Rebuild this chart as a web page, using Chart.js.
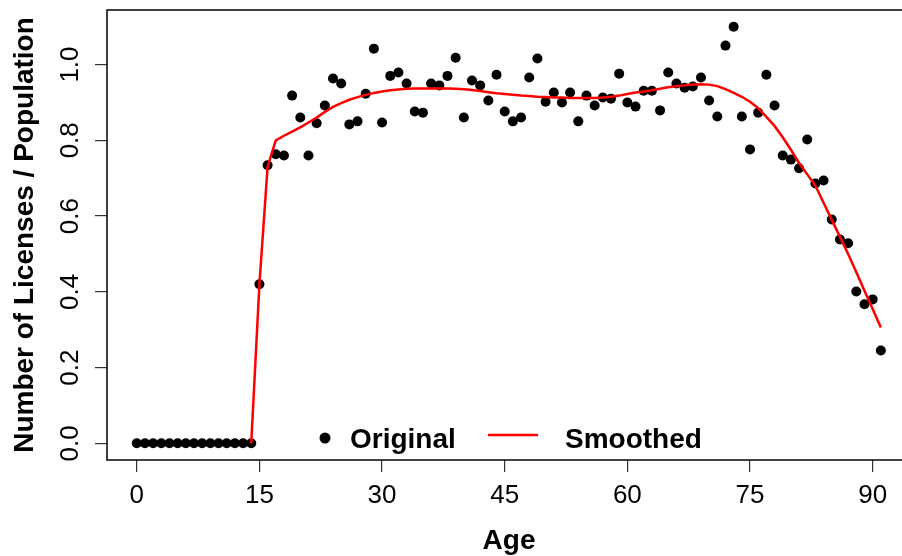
<!DOCTYPE html>
<html>
<head>
<meta charset="utf-8">
<script src="https://cdn.jsdelivr.net/npm/chart.js@4"></script>
<style>
  html, body { margin: 0; padding: 0; background: #fff; overflow: hidden; }
  canvas { display: block; }
</style>
</head>
<body>
<canvas id="myChart" width="912" height="556"></canvas>
<script>
const ages = [0, 1, 2, 3, 4, 5, 6, 7, 8, 9, 10, 11, 12, 13, 14, 15, 16, 17, 18, 19,
  20, 21, 22, 23, 24, 25, 26, 27, 28, 29, 30, 31, 32, 33, 34, 35, 36, 37, 38, 39,
  40, 41, 42, 43, 44, 45, 46, 47, 48, 49, 50, 51, 52, 53, 54, 55, 56, 57, 58, 59,
  60, 61, 62, 63, 64, 65, 66, 67, 68, 69, 70, 71, 72, 73, 74, 75, 76, 77, 78, 79,
  80, 81, 82, 83, 84, 85, 86, 87, 88, 89, 90, 91]

const original = [0, 0, 0, 0, 0, 0, 0, 0, 0, 0, 0, 0, 0, 0, 0, 0.42, 0.734, 0.763, 0.76, 0.918,
  0.86, 0.76, 0.845, 0.892, 0.963, 0.95, 0.842, 0.85, 0.923, 1.042, 0.847, 0.97, 0.979, 0.95, 0.876,
  0.873, 0.95, 0.945, 0.97, 1.018, 0.86, 0.958, 0.945, 0.905, 0.973, 0.876, 0.85, 0.86, 0.966, 1.016,
  0.902, 0.926, 0.9, 0.926, 0.85, 0.918, 0.892, 0.913, 0.91, 0.976, 0.9, 0.889, 0.931, 0.931, 0.879,
  0.979, 0.95, 0.939, 0.942, 0.966, 0.905, 0.863, 1.05, 1.1, 0.863, 0.776, 0.873, 0.973, 0.892, 0.76,
  0.749, 0.726, 0.802, 0.686, 0.694, 0.591, 0.538, 0.528, 0.401, 0.367, 0.38, 0.245]

// smoothed curve starts at age 14
const smoothAges = [14, 15, 16, 17, 18, 19, 20, 21, 22, 23, 24, 25, 26, 27, 28, 29, 30, 31, 32, 33,
  34, 35, 36, 37, 38, 39, 40, 41, 42, 43, 44, 45, 46, 47, 48, 49, 50, 51, 52, 53, 54, 55, 56, 57,
  58, 59, 60, 61, 62, 63, 64, 65, 66, 67, 68, 69, 70, 71, 72, 73, 74, 75, 76, 77, 78, 79, 80, 81,
  82, 83, 84, 85, 86, 87, 88, 89, 90, 91]

const smoothed = [0, 0.42, 0.73, 0.80, 0.812, 0.823, 0.834, 0.847, 0.86, 0.875, 0.888, 0.898, 0.907,
  0.914, 0.92, 0.925, 0.929, 0.932, 0.934, 0.936, 0.937, 0.937, 0.937, 0.937, 0.937, 0.936, 0.935,
  0.933, 0.93, 0.927, 0.924, 0.922, 0.92, 0.918, 0.917, 0.915, 0.914, 0.913, 0.913, 0.912, 0.912,
  0.912, 0.912, 0.913, 0.915, 0.918, 0.922, 0.926, 0.929, 0.932, 0.936, 0.94, 0.943, 0.945, 0.947,
  0.948, 0.947, 0.943, 0.935, 0.925, 0.915, 0.902, 0.885, 0.862, 0.838, 0.808, 0.775, 0.74, 0.71,
  0.68, 0.635, 0.59, 0.545, 0.50, 0.452, 0.403, 0.355, 0.306]

const xTicks = [0, 15, 30, 45, 60, 75, 90]
const yTicks = [0, 0.2, 0.4, 0.6, 0.8, 1.0]

const FONT = "'Liberation Sans', Arial, sans-serif"

// box, legend and axis titles drawn R-style
const rDecor = {
  id: 'rDecor',
  beforeDatasetsDraw(chart) {
    const { ctx, chartArea: a } = chart
    ctx.save()
    ctx.strokeStyle = '#000'
    ctx.lineWidth = 1.5
    ctx.strokeRect(a.left, a.top, a.right - a.left, a.bottom - a.top)
    ctx.restore()
  },
  afterDraw(chart) {
    const { ctx } = chart
    ctx.save()
    ctx.fillStyle = '#000'
    ctx.font = 'bold 28px ' + FONT
    ctx.textBaseline = 'alphabetic'

    // legend
    ctx.beginPath()
    ctx.arc(325, 438, 5.5, 0, Math.PI * 2)
    ctx.fill()
    ctx.textAlign = 'left'
    ctx.fillText('Original', 350, 448)
    ctx.strokeStyle = '#ff0000'
    ctx.lineWidth = 2.5
    ctx.beginPath()
    ctx.moveTo(488, 435)
    ctx.lineTo(538, 435)
    ctx.stroke()
    ctx.fillText('Smoothed', 565, 448)

    // axis titles
    ctx.textAlign = 'center'
    ctx.fillText('Age', 509, 549)
    ctx.translate(33, 235)
    ctx.rotate(-Math.PI / 2)
    ctx.fillText('Number of Licenses / Population', 0, 0)
    ctx.restore()
  }
}

const noPad = s => {
  s.paddingTop = 0
  s.paddingBottom = 0
  s.paddingLeft = 0
  s.paddingRight = 0
}

const ctx = document.getElementById('myChart')
const myChart = new Chart(ctx, {
  type: 'line',
  data: {
    datasets: [{
      label: 'Smoothed',
      data: smoothAges.map((a, i) => ({ x: a, y: smoothed[i] })),
      borderColor: '#ff0000',
      borderWidth: 2.5,
      pointRadius: 0,
      fill: false,
      tension: 0,
      order: 0
    }, {
      label: 'Original',
      data: ages.map((a, i) => ({ x: a, y: original[i] })),
      showLine: false,
      pointRadius: 5,
      pointBorderWidth: 0,
      pointBackgroundColor: '#000',
      borderColor: '#000',
      order: 1
    }]
  },
  options: {
    responsive: false,
    animation: false,
    layout: { padding: { top: 10, right: 1, left: 0, bottom: 0 } },
    plugins: {
      legend: { display: false },
      tooltip: { enabled: false }
    },
    scales: {
      x: {
        type: 'linear',
        min: -3.64,
        max: 94.2,
        afterBuildTicks: s => { s.ticks = xTicks.map(v => ({ value: v })) },
        afterFit: s => { s.height = 96; noPad(s) },
        border: { display: false },
        grid: { drawOnChartArea: false, drawTicks: true, tickLength: 12, color: '#333', lineWidth: 1.2 },
        ticks: { color: '#000', font: { size: 26, family: FONT }, padding: 8, maxRotation: 0 }
      },
      y: {
        min: -0.044,
        max: 1.144,
        afterBuildTicks: s => { s.ticks = yTicks.map(v => ({ value: v })) },
        afterFit: s => { s.width = 107; noPad(s) },
        border: { display: false },
        grid: { drawOnChartArea: false, drawTicks: true, tickLength: 12, color: '#333', lineWidth: 1.2 },
        ticks: {
          color: '#000',
          font: { size: 26, family: FONT },
          padding: 6,
          minRotation: 90,
          maxRotation: 90,
          crossAlign: 'center',
          callback: v => v.toFixed(1)
        }
      }
    }
  },
  plugins: [rDecor]
})
</script>
</body>
</html>
